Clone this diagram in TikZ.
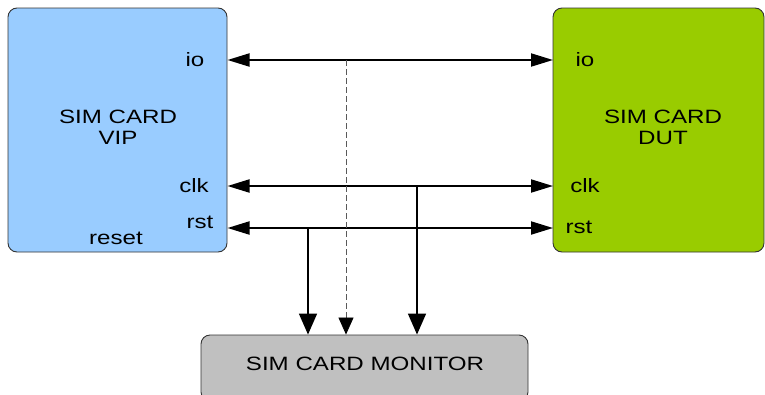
\documentclass[tikz,border=0pt]{standalone}
\usepackage{fontspec}
\setmainfont{Liberation Sans}[FakeStretch=1.25]
\usetikzlibrary{arrows.meta}
\definecolor{vipblue}{HTML}{99CCFF}
\definecolor{dutgreen}{HTML}{99CC00}
\definecolor{mongray}{HTML}{C0C0C0}
\definecolor{edge}{HTML}{333333}
\begin{document}
\begin{tikzpicture}[x=1pt,y=-1pt,
  blockbox/.style={draw=edge,line width=0.9pt,rounded corners=9pt,inner sep=0pt},
  lbl/.style={inner sep=0pt,font=\fontsize{19.3}{21}\selectfont},
  bus/.style={line width=2pt,{Triangle[length=22pt,width=13pt]}-{Triangle[length=22pt,width=13pt]}},
  tap/.style={line width=1.6pt,-{Triangle[length=21pt,width=18pt]}},
  dtap/.style={line width=0.8pt,draw=black!65,dash pattern=on 6pt off 3pt,-{Triangle[length=17pt,width=15pt,fill=black,color=black]}}]
\useasboundingbox (0,0) rectangle (765,394);
% boxes
\node[blockbox,fill=vipblue,minimum width=219pt,minimum height=244pt] (vip) at (117.5,130) {};
\node[blockbox,fill=dutgreen,minimum width=211pt,minimum height=244pt] (dut) at (658.5,130) {};
\node[blockbox,fill=mongray,minimum width=327pt,minimum height=66pt] (mon) at (364.5,368) {};
% labels
\node[lbl,align=center] (viptxt) at (118,127) {SIM CARD\\VIP};
\node[lbl,align=center] (duttxt) at (663,127) {SIM CARD\\DUT};
\node[lbl] (montxt) at (365,364) {SIM CARD MONITOR};
\node[lbl] (vipio) at (195,60) {io};
\node[lbl] (vipclk) at (194,186) {clk};
\node[lbl] (viprst) at (200,222) {rst};
\node[lbl] (vipreset) at (116,238) {reset};
\node[lbl] (dutio) at (585,60) {io};
\node[lbl] (dutclk) at (585,186) {clk};
\node[lbl] (dutrst) at (579,227) {rst};
% port coordinates
\coordinate (aio) at (227.5,60);
\coordinate (bio) at (553,60);
\coordinate (aclk) at (227.5,186);
\coordinate (bclk) at (553,186);
\coordinate (arst) at (227.5,228);
\coordinate (brst) at (553,228);
\coordinate (tio) at (346,60);
\coordinate (tclk) at (417,186);
\coordinate (trst) at (308,228);
% buses
\draw[bus] (aio) -- (bio);
\draw[bus] (aclk) -- (bclk);
\draw[bus] (arst) -- (brst);
% taps to monitor
\draw[tap] (trst) -- (trst |- mon.north);
\draw[dtap] (tio) -- (tio |- mon.north);
\draw[tap] (tclk) -- (tclk |- mon.north);
\end{tikzpicture}
\end{document}
